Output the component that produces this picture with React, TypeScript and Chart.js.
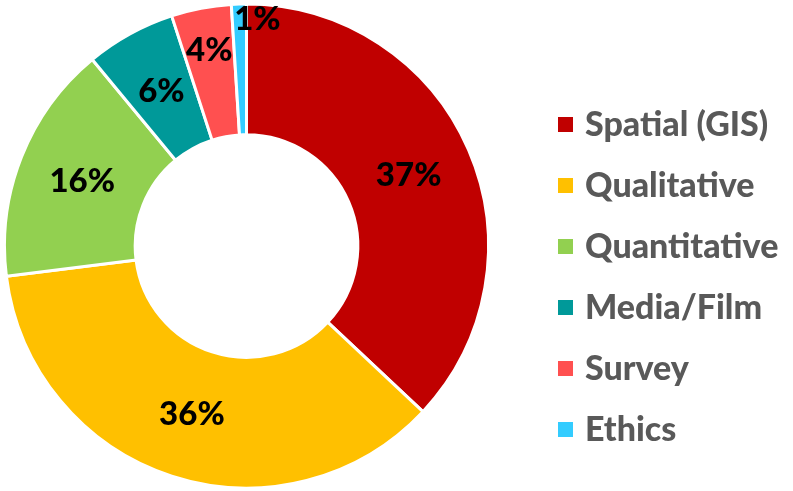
import { useEffect, useRef } from "react";
import { Chart, registerables } from "chart.js";

Chart.register(...registerables);

const categories = ["Spatial (GIS)", "Qualitative", "Quantitative", "Media/Film", "Survey", "Ethics"];
const shares = [37, 36, 16, 6, 4, 1];
const percentLabels = ["37%", "36%", "16%", "6%", "4%", "1%"];
const colors = ["#C00000", "#FFC000", "#92D050", "#009999", "#FF5050", "#33CCFF"];

// label placement style: radial fraction across the ring (0 = inner, 1 = outer) and x nudge
const labelRadial = [0.5, 0.5, 0.5, 0.5, 0.67, 0.88];
const labelNudgeX = [0, 0, 0, 0, 0, 18];

const LEGEND_FONT = "900 34px Lato";
const LABEL_FONT = "900 33px Lato";

const percentPlugin = {
  id: "percentLabels",
  afterDatasetsDraw(chart: any) {
    const ctx = chart.ctx;
    const meta = chart.getDatasetMeta(0);
    ctx.save();
    ctx.font = LABEL_FONT;
    ctx.fillStyle = "#000000";
    ctx.textAlign = "center";
    ctx.textBaseline = "middle";
    meta.data.forEach((arc: any, i: number) => {
      const p = arc.getProps(["x", "y", "startAngle", "endAngle", "innerRadius", "outerRadius"], true);
      const mid = (p.startAngle + p.endAngle) / 2;
      const r = p.innerRadius + (p.outerRadius - p.innerRadius) * labelRadial[i];
      const x = p.x + Math.cos(mid) * r + labelNudgeX[i];
      const y = p.y + Math.sin(mid) * r;
      ctx.fillText(percentLabels[i], x, y);
    });
    ctx.restore();
  },
};

const legendPlugin = {
  id: "sideLegend",
  afterDraw(chart: any) {
    const ctx = chart.ctx;
    const n = chart.data.labels.length;
    const top = 124.5;
    const step = 61;
    const boxX = 558;
    const box = 15;
    const textX = 585;
    ctx.save();
    ctx.font = LEGEND_FONT;
    ctx.textAlign = "left";
    ctx.textBaseline = "alphabetic";
    for (let i = 0; i < n; i++) {
      const cy = top + i * step;
      ctx.fillStyle = chart.data.datasets[0].backgroundColor[i];
      ctx.fillRect(boxX, cy - box / 2, box, box);
      ctx.fillStyle = "#595959";
      ctx.fillText(chart.data.labels[i], textX, cy + 11.5);
    }
    ctx.restore();
  },
};

export default function App() {
  const ref = useRef<HTMLCanvasElement>(null);
  useEffect(() => {
    document.body.style.margin = "0";
    const chart = new Chart(ref.current!, {
      type: "doughnut",
      data: {
        labels: categories,
        datasets: [
          {
            data: shares,
            backgroundColor: colors,
            borderColor: "#FFFFFF",
            borderWidth: 3,
            hoverOffset: 0,
          },
        ],
      },
      options: {
        responsive: false,
        animation: false,
        cutout: "46%",
        layout: { padding: { top: 2, bottom: 1, left: 3, right: 303 } },
        plugins: {
          legend: { display: false },
          tooltip: { enabled: false },
        },
      },
      plugins: [percentPlugin, legendPlugin],
    });
    return () => chart.destroy();
  }, []);
  return (
    <div style={{ width: 793, height: 491, background: "#FFFFFF" }}>
      <canvas ref={ref} width={793} height={491} style={{ display: "block" }} />
    </div>
  );
}
